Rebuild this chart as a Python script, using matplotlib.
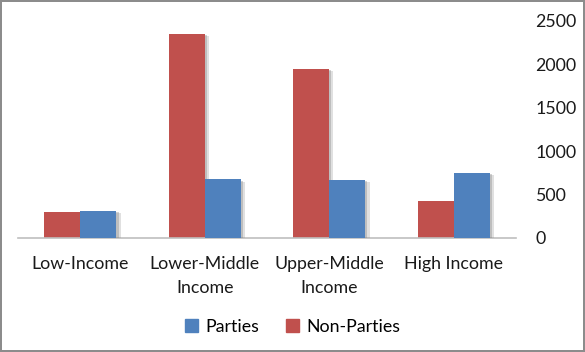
import numpy as np
import matplotlib
matplotlib.use('Agg')
import matplotlib.pyplot as plt
import matplotlib.patheffects as pe
from matplotlib.patches import Patch

categories = ['Low-Income', 'Lower-Middle\nIncome', 'Upper-Middle\nIncome', 'High Income']
non_parties = [300, 2350, 1950, 430]
parties = [307, 673, 665, 753]
y_ticks = [0, 500, 1000, 1500, 2000, 2500]

red = '#C0504D'
blue = '#4F81BD'

plt.rcParams['font.family'] = ['Lato', 'DejaVu Sans']

fig = plt.figure(figsize=(5.85, 3.52), dpi=100)
fig.patch.set_edgecolor('#8c8c8c')
fig.patch.set_linewidth(1.5)
ax = fig.add_axes([0.031, 0.324, 0.851, 0.617])

x = np.arange(len(categories))
w = 0.29
# soft drop shadow like the Excel bars
shadow = [pe.SimplePatchShadow(offset=(3, -1.5), shadow_rgbFace='#9a9a9a', alpha=0.3),
          pe.SimplePatchShadow(offset=(1.5, -0.8), shadow_rgbFace='#808080', alpha=0.35),
          pe.Normal()]
b1 = ax.bar(x - w / 2, non_parties, w, color=red, label='Non-Parties', zorder=2)
b2 = ax.bar(x + w / 2, parties, w, color=blue, label='Parties', zorder=3)
for bar in list(b1) + list(b2):
    bar.set_path_effects(shadow)

ax.set_xlim(-0.5, 3.5)
ax.set_ylim(0, 2500)
ax.set_xticks(x)
ax.set_xticklabels(categories, fontsize=12.8, color='#1a1a1a', linespacing=1.65)
ax.set_yticks(y_ticks)
ax.set_yticklabels([str(v) for v in y_ticks], fontsize=12.8, color='#1a1a1a')
ax.yaxis.tick_right()
ax.tick_params(axis='y', length=0, pad=14)
ax.tick_params(axis='x', length=0, pad=13)
for s in ['top', 'left', 'right']:
    ax.spines[s].set_visible(False)
ax.spines['bottom'].set_color('#bfbfbf')
ax.spines['bottom'].set_linewidth(1.2)

handles = [Patch(color=blue, label='Parties'), Patch(color=red, label='Non-Parties')]
fig.legend(handles=handles, loc='center', bbox_to_anchor=(0.5, 0.072), ncol=2, frameon=False,
           fontsize=12.8, handlelength=0.75, handleheight=0.75, handletextpad=0.4, columnspacing=1.5)

fig.savefig('out.png', dpi=100, edgecolor=fig.get_edgecolor())
